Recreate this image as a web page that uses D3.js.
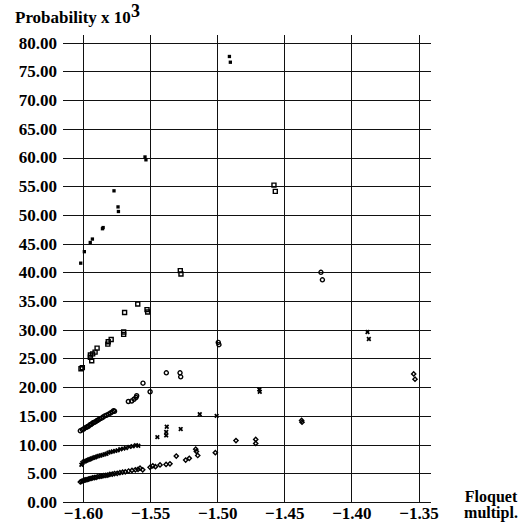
<!DOCTYPE html>
<html>
<head>
<meta charset="utf-8">
<script src="https://cdn.jsdelivr.net/npm/d3@7"></script>
<style>
  body { margin: 0; background: #fff; }
</style>
</head>
<body>
<div id="chart"></div>
<script>
//chart values, each point is [floquet multiplier, probability x 10^3]
var filledSquares = [
    [-1.6017, 41.6], [-1.5990, 43.6], [-1.5946, 45.2], [-1.5930, 45.8], [-1.5855, 47.6],
    [-1.5850, 47.8], [-1.5769, 54.2], [-1.5739, 51.4], [-1.5736, 50.6], [-1.5538, 60.1],
    [-1.5531, 59.6], [-1.4909, 77.6], [-1.4902, 76.6]
];
var openSquares = [
    [-1.6015, 23.2], [-1.6005, 23.4], [-1.5935, 24.6], [-1.5945, 25.2], [-1.5945, 25.6],
    [-1.5928, 25.8], [-1.5910, 26.1], [-1.5895, 26.8], [-1.5815, 27.5], [-1.5812, 27.9],
    [-1.5790, 28.3], [-1.5697, 29.2], [-1.5697, 29.6], [-1.5690, 33.0], [-1.5592, 34.5],
    [-1.5523, 33.5], [-1.5518, 33.1], [-1.5275, 40.3], [-1.5270, 39.7], [-1.4577, 55.2],
    [-1.4567, 54.1]
];
var circles = [
    [-1.6020, 12.4], [-1.6005, 12.6], [-1.5995, 12.7], [-1.5985, 12.9], [-1.5975, 13.0],
    [-1.5968, 13.1], [-1.5960, 13.2], [-1.5950, 13.4], [-1.5942, 13.5], [-1.5935, 13.6],
    [-1.5925, 13.8], [-1.5915, 13.9], [-1.5905, 14.0], [-1.5895, 14.2], [-1.5885, 14.3],
    [-1.5875, 14.5], [-1.5862, 14.6], [-1.5850, 14.8], [-1.5838, 15.0], [-1.5825, 15.1],
    [-1.5810, 15.3], [-1.5795, 15.5], [-1.5782, 15.7], [-1.5772, 15.9], [-1.5765, 15.8],
    [-1.5662, 17.5], [-1.5637, 17.6], [-1.5620, 17.9], [-1.5605, 18.2], [-1.5600, 18.5],
    [-1.5553, 20.7], [-1.5500, 19.2], [-1.5379, 22.5], [-1.5277, 22.5], [-1.5272, 21.8],
    [-1.4992, 27.8], [-1.4987, 27.4], [-1.4227, 40.0], [-1.4216, 38.7]
];
var crosses = [
    [-1.6012, 6.5], [-1.6005, 6.8], [-1.5995, 7.0], [-1.5985, 7.1], [-1.5975, 7.2],
    [-1.5965, 7.3], [-1.5955, 7.4], [-1.5945, 7.5], [-1.5935, 7.6], [-1.5922, 7.7],
    [-1.5910, 7.8], [-1.5898, 7.9], [-1.5885, 8.0], [-1.5870, 8.1], [-1.5855, 8.2],
    [-1.5840, 8.3], [-1.5825, 8.4], [-1.5810, 8.6], [-1.5795, 8.7], [-1.5778, 8.8],
    [-1.5760, 8.9], [-1.5742, 9.0], [-1.5722, 9.2], [-1.5700, 9.3], [-1.5680, 9.4],
    [-1.5655, 9.6], [-1.5630, 9.7], [-1.5605, 9.9], [-1.5588, 9.8],
    [-1.5446, 11.3], [-1.5380, 12.2], [-1.5380, 11.6], [-1.5376, 13.1], [-1.5272, 12.7],
    [-1.5130, 15.3], [-1.5004, 15.0], [-1.4686, 19.6], [-1.4683, 19.2], [-1.3880, 29.6],
    [-1.3870, 28.4]
];
var diamonds = [
    [-1.6020, 3.5], [-1.6010, 3.6], [-1.6000, 3.7], [-1.5990, 3.8], [-1.5980, 3.85],
    [-1.5970, 3.9], [-1.5960, 4.0], [-1.5950, 4.05], [-1.5940, 4.1], [-1.5928, 4.2],
    [-1.5915, 4.25], [-1.5902, 4.3], [-1.5890, 4.4], [-1.5875, 4.45], [-1.5860, 4.5],
    [-1.5845, 4.6], [-1.5830, 4.65], [-1.5815, 4.7], [-1.5800, 4.8], [-1.5782, 4.85],
    [-1.5765, 4.95], [-1.5745, 5.0], [-1.5725, 5.1], [-1.5705, 5.2], [-1.5685, 5.25],
    [-1.5660, 5.4], [-1.5635, 5.5], [-1.5610, 5.6], [-1.5590, 5.7], [-1.5575, 5.9],
    [-1.5555, 5.6], [-1.5500, 6.05], [-1.5480, 6.3], [-1.5460, 6.15], [-1.5426, 6.45],
    [-1.5381, 6.55], [-1.5352, 6.65], [-1.5305, 8.0], [-1.5235, 7.3], [-1.5208, 7.6],
    [-1.5160, 9.2], [-1.5155, 8.8], [-1.5145, 8.1], [-1.5014, 8.6], [-1.4860, 10.7],
    [-1.4713, 10.9], [-1.4713, 10.2], [-1.4371, 14.2], [-1.4368, 13.9], [-1.3536, 22.3],
    [-1.3526, 21.4]
];
var xTicks = [-1.60, -1.55, -1.50, -1.45, -1.40, -1.35];
var yTicks = [0, 5, 10, 15, 20, 25, 30, 35, 40, 45, 50, 55, 60, 65, 70, 75, 80];

var serifFont = "'Liberation Serif', 'Times New Roman', Times, 'DejaVu Serif', serif";

//svg size
var svgWidth = 524;
var svgHeight = 527;

var svg = d3.select("#chart")
    .append("svg")
    .attr("width", svgWidth)
    .attr("height", svgHeight)
    .attr("font-family", serifFont)
    .attr("font-weight", "bold");

//scales
var xScale = d3.scaleLinear().domain([-1.60, -1.35]).range([83, 418.5]);
var yScale = d3.scaleLinear().domain([0, 80]).range([502, 42.7]);

//horizontal grid + y labels
var leftAxis = d3.axisLeft(yScale)
    .tickValues(yTicks)
    .tickFormat(d3.format(".2f"))
    .tickSize(-368)
    .tickPadding(6);

var yAxisGroup = svg.append("g")
    .attr("transform", "translate(63, 0)")
    .call(leftAxis)
    .attr("font-family", serifFont)
    .attr("font-size", 17);
yAxisGroup.select(".domain").remove();
yAxisGroup.selectAll("line").attr("stroke", "#111").attr("shape-rendering", "crispEdges");
yAxisGroup.selectAll("text").attr("fill", "#000");

//vertical grid + x labels
var bottomAxis = d3.axisBottom(xScale)
    .tickValues(xTicks)
    .tickFormat(d3.format(".2f"))
    .tickSize(-467)
    .tickPadding(5);

var xAxisGroup = svg.append("g")
    .attr("transform", "translate(0, 502)")
    .call(bottomAxis)
    .attr("font-family", serifFont)
    .attr("font-size", 17);
xAxisGroup.select(".domain").remove();
xAxisGroup.selectAll("line").attr("stroke", "#111").attr("shape-rendering", "crispEdges");
xAxisGroup.selectAll("text").attr("fill", "#000");

//y title with superscript
var title = svg.append("text")
    .attr("x", 15)
    .attr("y", 23)
    .attr("font-size", 17)
    .text("Probability x 10");
title.append("tspan")
    .attr("dy", -6)
    .attr("font-size", 18)
    .text("3");

//x title in two lines
svg.append("text")
    .attr("x", 491)
    .attr("y", 502)
    .attr("text-anchor", "middle")
    .attr("font-size", 16)
    .text("Floquet");
svg.append("text")
    .attr("x", 491)
    .attr("y", 518)
    .attr("text-anchor", "middle")
    .attr("font-size", 16)
    .text("multipl.");

//draw one series of markers
function drawSeries(data, symbolType, size, filled, rotate) {
    var sym = d3.symbol().type(symbolType).size(size);
    svg.append("g")
        .selectAll("path")
        .data(data)
        .enter()
        .append("path")
        .attr("d", sym)
        .attr("transform", d => `translate(${xScale(d[0])}, ${yScale(d[1])}) rotate(${rotate})`)
        .attr("fill", filled ? "#000" : "none")
        .attr("stroke", "#000")
        .attr("stroke-width", filled ? 0 : 1.4);
}

drawSeries(filledSquares, d3.symbolSquare, 11, true, 0);
drawSeries(openSquares, d3.symbolSquare, 16, false, 0);
drawSeries(circles, d3.symbolCircle, 13, false, 0);
drawSeries(crosses, d3.symbolCross, 15, true, 45);
drawSeries(diamonds, d3.symbolSquare, 9, false, 45);
</script>
</body>
</html>
